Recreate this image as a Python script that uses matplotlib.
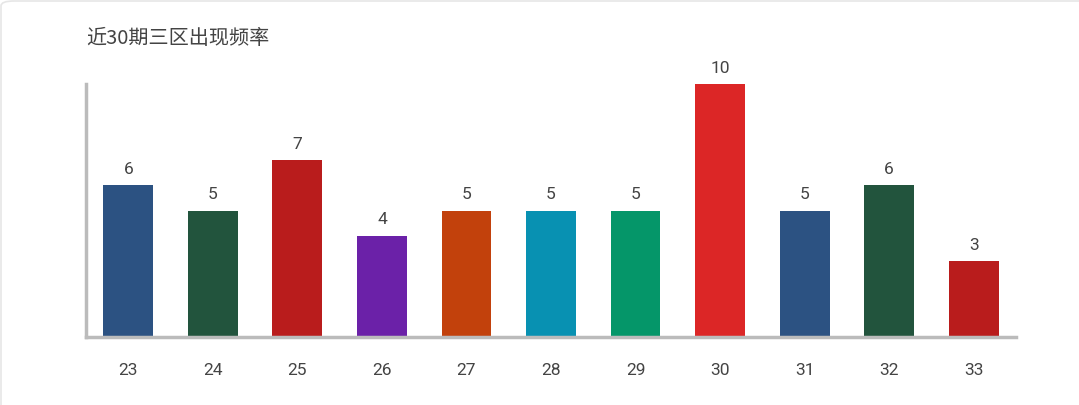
import matplotlib
matplotlib.use('Agg')
import matplotlib.pyplot as plt
from matplotlib.patches import FancyBboxPatch

plt.rcParams['font.family'] = ['Roboto', 'Noto Sans CJK SC', 'DejaVu Sans']

# 数据
categories = ['23', '24', '25', '26', '27', '28', '29', '30', '31', '32', '33']
counts = [6, 5, 7, 4, 5, 5, 5, 10, 5, 6, 3]
colors = ['#2c5282', '#22543d', '#b91c1c', '#6b21a8', '#c2410c', '#0891b2',
          '#059669', '#dc2626', '#2c5282', '#22543d', '#b91c1c']

fig = plt.figure(figsize=(10.79, 4.05), dpi=100)

# 卡片边框 (只露出左边和上边)
card = FancyBboxPatch((1/1079, -0.05), 1.1, 1.05 - 1/405, boxstyle='round,pad=0,rounding_size=0.012',
                      transform=fig.transFigure, facecolor='white', edgecolor='#e6e6e6',
                      linewidth=1.2, zorder=-10)
fig.patches.append(card)

ax = fig.add_axes([86/1079, 68/405, (1016-86)/1079, (321-68)/405])
ax.set_facecolor('none')

x = range(len(categories))
bars = ax.bar(x, counts, width=0.59, color=colors, zorder=2)
for xi, v in zip(x, counts):
    ax.text(xi, v + 0.33, str(v), ha='center', va='bottom', fontsize=12.5, color='#444444')

ax.set_xlim(-0.5, len(categories) - 0.5)
ax.set_ylim(0, 10)
ax.set_xticks(list(x))
ax.set_xticklabels(categories, fontsize=12.5, color='#444444')
ax.set_yticks([])
ax.tick_params(axis='x', length=0, pad=19)

for s in ['top', 'right']:
    ax.spines[s].set_visible(False)
for s in ['left', 'bottom']:
    ax.spines[s].set_color('#bbbbbb')
    ax.spines[s].set_linewidth(2.5)

fig.text(86/1079, 1 - 38/405, '近30期三区出现频率', fontsize=14.5, color='#444444',
         ha='left', va='center', family=['Noto Sans CJK SC', 'DejaVu Sans'])

fig.savefig('out.png', dpi=100)
